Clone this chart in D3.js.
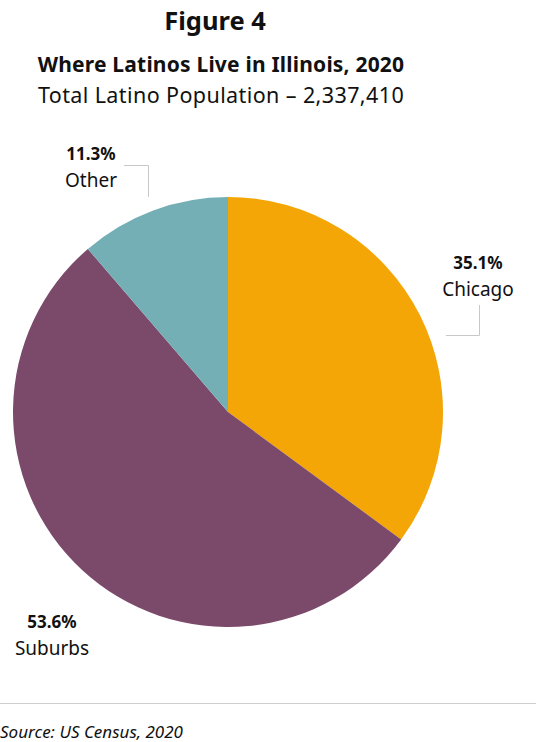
<!DOCTYPE html>
<html>
<head>
<meta charset="utf-8">
<style>
  body { margin: 0; background: #fff; }
  svg { display: block; font-family: "Noto Sans", "Open Sans", sans-serif; }
</style>
</head>
<body>
<svg width="536" height="742"></svg>
<script src="https://d3js.org/d3.v7.min.js"></script>
<script>
const categories = ["Chicago", "Suburbs", "Other"];
const shares = [35.1, 53.6, 11.3];
const colors = ["#F5A607", "#7B4A6B", "#74AFB6"];

const svg = d3.select("svg");
const cx = 228, cy = 412, r = 215;

// titles
svg.append("text").attr("x", 215).attr("y", 30).attr("text-anchor", "middle")
    .attr("font-size", 25.5).attr("font-weight", "bold").attr("fill", "#111").text("Figure 4");
svg.append("text").attr("x", 221).attr("y", 72).attr("text-anchor", "middle")
    .attr("font-size", 21).attr("font-weight", "bold").attr("letter-spacing", 0.2).attr("fill", "#111")
    .text("Where Latinos Live in Illinois, 2020");
svg.append("text").attr("x", 221).attr("y", 103).attr("text-anchor", "middle")
    .attr("font-size", 21.5).attr("letter-spacing", 0.4).attr("fill", "#111")
    .text("Total Latino Population \u2013 2,337,410");

const pie = d3.pie().sort(null).value(d => d.v);
const arcs = pie(categories.map((c, i) => ({ c, v: shares[i], col: colors[i] })));
const arc = d3.arc().innerRadius(0).outerRadius(r);

svg.append("g").attr("transform", `translate(${cx},${cy})`)
    .selectAll("path").data(arcs).join("path")
    .attr("d", arc).attr("fill", d => d.data.col);

// leader lines
const lead = svg.append("g").attr("fill", "none").attr("stroke", "#c8c8c8").attr("stroke-width", 1);
lead.append("path").attr("d", "M124,165.5H148.5V197");
lead.append("path").attr("d", "M479.5,305V335.5H446");

// labels
const labels = [
    { i: 2, x: 91, y: 160 },
    { i: 0, x: 478, y: 269 },
    { i: 1, x: 52, y: 628 }
];
labels.forEach(l => {
    const g = svg.append("g").attr("fill", "#111").attr("text-anchor", "middle");
    g.append("text").attr("x", l.x).attr("y", l.y).attr("font-size", 17).attr("font-weight", "bold")
        .text(shares[l.i].toFixed(1) + "%");
    g.append("text").attr("x", l.x).attr("y", l.y + 27).attr("font-size", 19)
        .text(categories[l.i]);
});

// footer
svg.append("line").attr("x1", 0).attr("x2", 536).attr("y1", 703.5).attr("y2", 703.5)
    .attr("stroke", "#cfcfcf").attr("stroke-width", 1.2);
svg.append("text").attr("x", 0).attr("y", 738).attr("font-size", 17).attr("font-style", "italic")
    .attr("fill", "#111").text("Source: US Census, 2020");
</script>
</body>
</html>
